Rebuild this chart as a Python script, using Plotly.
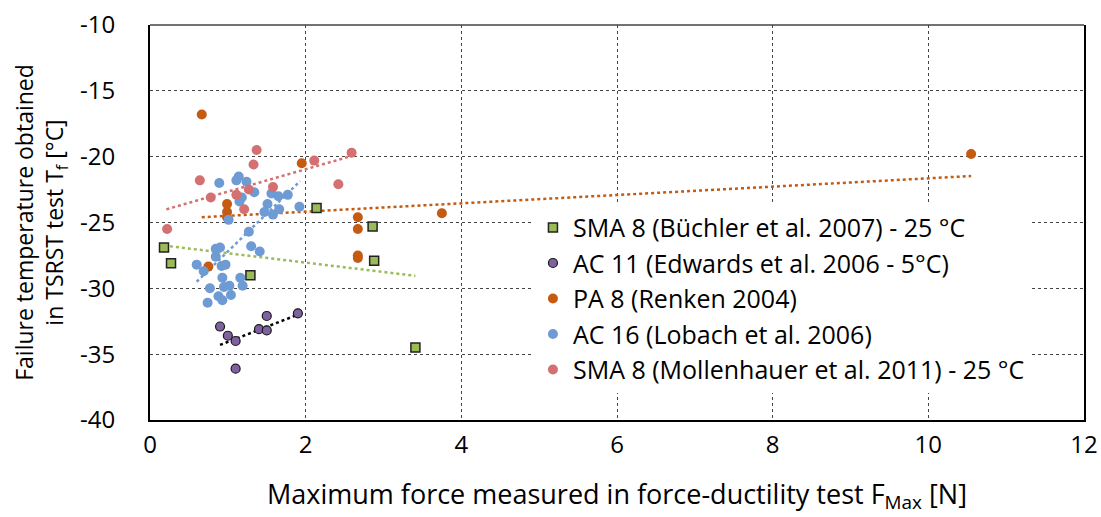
import plotly.graph_objects as go

# ---- data ----
sma8_b_x = [0.18, 0.27, 1.29, 2.14, 2.86, 2.88, 3.41]
sma8_b_y = [-26.9, -28.1, -29.0, -23.9, -25.3, -27.9, -34.5]

ac11_x = [0.90, 1.00, 1.10, 1.40, 1.50, 1.50, 1.90, 1.10]
ac11_y = [-32.9, -33.6, -34.0, -33.1, -33.2, -32.1, -31.9, -36.1]

pa8_x = [0.665, 0.99, 0.99, 0.99, 0.75, 1.95, 2.67, 2.67, 2.67, 2.67, 3.75, 10.55]
pa8_y = [-16.8, -23.6, -24.2, -24.6, -28.35, -20.5, -24.6, -25.5, -27.5, -27.7, -24.3, -19.8]

ac16_x = [0.89, 1.11, 1.14, 1.24, 1.34, 1.18, 1.15, 1.56, 1.65, 1.77, 1.51, 1.66, 1.47,
          1.58, 1.92, 1.01, 1.27, 0.90, 0.845, 1.30, 1.41, 0.845, 0.60, 0.69, 0.92, 0.97,
          0.93, 1.16, 1.19, 0.77, 0.95, 1.02, 0.88, 0.93, 1.04, 0.74]
ac16_y = [-22.0, -21.8, -21.5, -21.9, -22.7, -23.1, -23.4, -22.8, -23.0, -22.9, -23.6, -24.0, -24.2,
          -24.4, -23.8, -24.8, -25.7, -26.9, -27.0, -26.8, -27.2, -27.6, -28.2, -28.7, -28.3, -28.2,
          -29.2, -29.2, -29.8, -30.0, -29.9, -29.8, -30.6, -30.9, -30.5, -31.1]

sma8_m_x = [1.37, 1.33, 0.64, 0.78, 1.11, 1.27, 1.21, 1.58, 2.11, 2.42, 2.59, 0.22]
sma8_m_y = [-19.5, -20.6, -21.8, -23.1, -22.9, -22.5, -24.0, -22.3, -20.3, -22.1, -19.7, -25.5]

# trend line end points
trend_sma8_b_x = [0.18, 3.41]
trend_sma8_b_y = [-26.75, -29.05]
trend_ac11_x = [0.90, 1.90]
trend_ac11_y = [-34.3, -32.0]
trend_pa8_x = [0.665, 10.55]
trend_pa8_y = [-24.6, -21.47]
trend_ac16_x = [0.60, 1.93]
trend_ac16_y = [-29.5, -21.85]
trend_sma8_m_x = [0.21, 2.59]
trend_sma8_m_y = [-24.0, -19.95]

x_ticks = [0, 2, 4, 6, 8, 10, 12]
y_ticks = [-10, -15, -20, -25, -30, -35, -40]

names = ["SMA 8 (Büchler et al. 2007) - 25 °C",
         "AC 11 (Edwards et al. 2006 - 5°C)",
         "PA 8 (Renken 2004)",
         "AC 16 (Lobach et al. 2006)",
         "SMA 8 (Mollenhauer et al. 2011) - 25 °C"]

GREEN = "#9BBB59"
PURPLE = "#7F60A0"
ORANGE = "#C55A11"
BLUE = "#6E9BD3"
PINK = "#D47072"

FONT = "Open Sans"

fig = go.Figure()

# trend lines first (behind points)
for tx, ty, col in [(trend_sma8_b_x, trend_sma8_b_y, GREEN),
                    (trend_ac11_x, trend_ac11_y, "#000000"),
                    (trend_pa8_x, trend_pa8_y, ORANGE),
                    (trend_ac16_x, trend_ac16_y, BLUE),
                    (trend_sma8_m_x, trend_sma8_m_y, PINK)]:
    fig.add_trace(go.Scatter(x=tx, y=ty, mode="lines", showlegend=False,
                             line=dict(color=col, width=2.5, dash="dot"),
                             hoverinfo="skip"))

fig.add_trace(go.Scatter(x=sma8_b_x, y=sma8_b_y, mode="markers", name=names[0],
                         marker=dict(symbol="square", size=9, color=GREEN,
                                     line=dict(color="#222222", width=1.5))))
fig.add_trace(go.Scatter(x=ac11_x, y=ac11_y, mode="markers", name=names[1],
                         marker=dict(symbol="circle", size=9, color=PURPLE,
                                     line=dict(color="#1a1a1a", width=1.2))))
fig.add_trace(go.Scatter(x=pa8_x, y=pa8_y, mode="markers", name=names[2],
                         marker=dict(symbol="circle", size=10, color=ORANGE)))
fig.add_trace(go.Scatter(x=ac16_x, y=ac16_y, mode="markers", name=names[3],
                         marker=dict(symbol="circle", size=10, color=BLUE)))
fig.add_trace(go.Scatter(x=sma8_m_x, y=sma8_m_y, mode="markers", name=names[4],
                         marker=dict(symbol="circle", size=10, color=PINK)))

fig.update_layout(
    width=1101, height=517,
    margin=dict(l=150, r=17, t=25, b=97, autoexpand=False),
    paper_bgcolor="white", plot_bgcolor="white",
    font=dict(family=FONT, size=24, color="black"),
    legend=dict(x=0.41, y=0.545, xanchor="left", yanchor="top",
                bgcolor="white", font=dict(size=25, family=FONT),
                tracegroupgap=0, itemwidth=30),
    xaxis=dict(range=[0, 12], tickvals=x_ticks, ticktext=[str(v) for v in x_ticks],
               showgrid=True, gridcolor="#444444", griddash="dot", gridwidth=1,
               showline=True, linecolor="black", linewidth=2, mirror=False,
               ticks="", zeroline=False, ticklabelstandoff=2, automargin=False,
               tickfont=dict(size=24),
               title=dict(text="Maximum force measured in force-ductility test F<sub>Max</sub> [N]",
                          font=dict(size=27), standoff=26)),
    yaxis=dict(range=[-40, -10], tickvals=y_ticks, ticktext=[str(v) for v in y_ticks],
               showgrid=True, gridcolor="#444444", griddash="dot", gridwidth=1,
               showline=True, linecolor="black", linewidth=2, mirror=True,
               ticks="", zeroline=False, ticklabelstandoff=28, automargin=False,
               tickfont=dict(size=24),
               title=dict(text="Failure temperature obtained<br>in TSRST test T<sub>f</sub> [°C]",
                          font=dict(size=23), standoff=10)),
)

# top border
fig.add_shape(type="line", xref="paper", yref="paper", x0=0, x1=1, y0=1, y1=1,
              line=dict(color="#444444", width=1.5))

fig.write_html("out.html")
